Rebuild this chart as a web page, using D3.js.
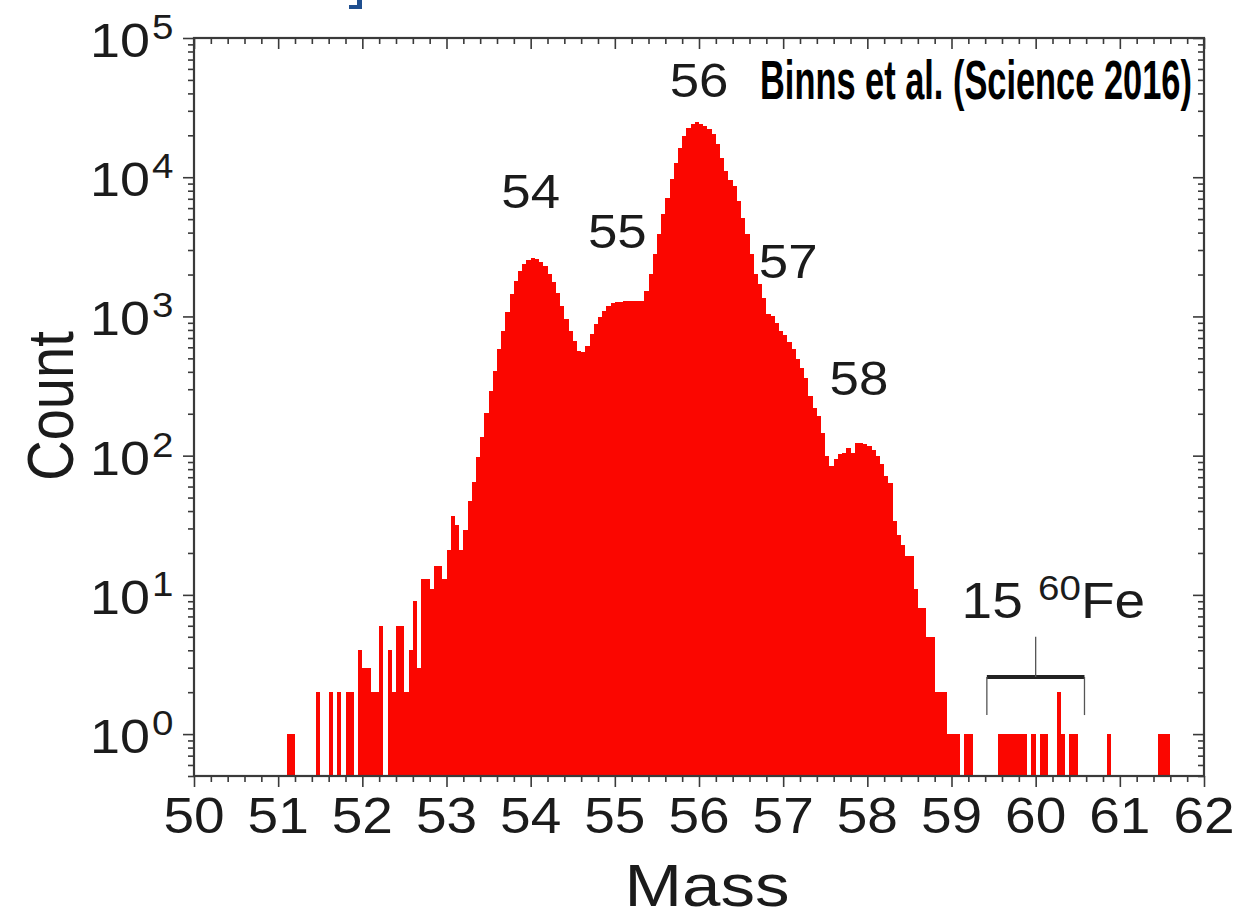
<!DOCTYPE html>
<html>
<head>
<meta charset="utf-8">
<script src="https://cdn.jsdelivr.net/npm/d3@7"></script>
<style>
  html, body { margin: 0; padding: 0; background: #ffffff; }
  svg { display: block; }
  text { font-family: "Liberation Sans", Arial, Helvetica, sans-serif; fill: #1b1b1b; }
</style>
</head>
<body>
<svg id="chart" width="1258" height="921"></svg>
<script>
// Mass histogram of iron isotopes in cosmic rays (counts per 0.05 mass-unit bin)
const binStart = 51.0;
const binWidth = 0.05;
const counts = [
  // 51.00 - 51.95
  0, 0, 1, 1, 0, 0, 0, 0, 0, 2,
  0, 0, 2, 0, 2, 0, 2, 2, 0, 4,
  // 52.00 - 52.95
  3, 3, 2, 2, 6, 0, 4, 2, 6, 6,
  2, 4, 9, 3, 13, 13, 11, 16, 16, 13,
  // 53.00 - 53.95
  21, 37, 32, 21, 29, 47, 65, 98, 137, 203,
  291, 405, 580, 785, 1081, 1442, 1796, 2120, 2366, 2530,
  // 54.00 - 54.95
  2641, 2585, 2472, 2302, 2027, 1777, 1481, 1188, 953, 785,
  665, 564, 558, 613, 743, 877, 990, 1094, 1188, 1255,
  // 55.00 - 55.95
  1276, 1280, 1285, 1290, 1290, 1290, 1300, 1524, 2006, 2793,
  3890, 5413, 7127, 9654, 12710, 16290, 19770, 22690, 24250, 24800,
  // 56.00 - 56.95
  24000, 23500, 22090, 20330, 17230, 13800, 11080, 9500, 8640, 6746,
  5119, 3890, 2793, 2006, 1700, 1363, 1035, 1000, 901, 790,
  // 57.00 - 57.95
  740, 660, 580, 492, 428, 360, 268, 221, 192, 145,
  99, 84, 95, 102, 105, 114, 105, 124, 124, 121,
  // 58.00 - 58.95
  118, 110, 99, 87, 71, 64, 34, 27, 23, 19,
  19, 11, 8, 8, 5, 5, 2, 2, 2, 1,
  // 59.00 - 59.95
  1, 1, 0, 1, 1, 0, 0, 0, 0, 0,
  0, 1, 1, 1, 1, 1, 1, 1, 0, 1,
  // 60.00 - 60.95
  0, 1, 1, 0, 0, 2, 1, 0, 1, 1,
  0, 0, 0, 0, 0, 0, 0, 1, 0, 0,
  // 61.00 - 61.95
  0, 0, 0, 0, 0, 0, 0, 0, 0, 1,
  1, 1, 0, 0, 0, 0, 0, 0, 0, 0
];

const xTickValues = [50, 51, 52, 53, 54, 55, 56, 57, 58, 59, 60, 61, 62];
const yTickValues = [1, 10, 100, 1000, 10000, 100000];
const yTickExponents = ["0", "1", "2", "3", "4", "5"];

// isotope peak annotations: text, mass, count level of the text baseline
const peakNames = ["54", "55", "56", "57", "58"];
const peakMasses = [54.0, 55.03, 56.0, 57.06, 57.9];
const peakLevels = [6000, 3100, 38000, 1900, 273];

// 60Fe bracket: mass span, centre, count levels
const bracketMasses = [59.42, 60.58];
const bracketCentre = 60.0;
const bracketLevels = { bar: 2.57, legs: 1.37, stem: 5.0 };
const fe60Count = "15";

const source = "Binns et al. (Science 2016)";

// ---------------------------------------------------------------------------
const plot = { left: 194, right: 1204, top: 38, bottom: 776 };
const x = d3.scaleLinear().domain([50, 62]).range([plot.left, plot.right]);
const y = d3.scaleLog().domain([0.5, 1e5]).range([plot.bottom, plot.top]);

const svg = d3.select("#chart");
const axisColor = "#3a3a3a";
const barColor = "#fb0600";

// histogram bars
const bins = counts.map((c, i) => ({
  m0: binStart + i * binWidth,
  m1: binStart + (i + 1) * binWidth,
  c: c
})).filter(d => d.c > 0);

svg.append("g")
  .attr("shape-rendering", "crispEdges")
  .selectAll("rect")
  .data(bins)
  .join("rect")
  .attr("x", d => x(d.m0))
  .attr("width", d => x(d.m1) - x(d.m0))
  .attr("y", d => y(d.c))
  .attr("height", d => y.range()[0] - y(d.c))
  .attr("fill", barColor);

// axes: ticks only, the frame is drawn separately
const xMinor = d3.range(50, 62.0001, 0.2).filter(v => Math.abs(v - Math.round(v)) > 1e-6);
const yMinor = y.ticks().filter(v => !yTickValues.some(t => Math.abs(t - v) / t < 1e-9));

function tickAxis(g, axis) {
  g.call(axis);
  g.select(".domain").remove();
  g.selectAll(".tick line").attr("stroke", axisColor).attr("stroke-width", 1.6);
  g.selectAll(".tick text").remove();
}

// bottom (outward) and top (inward) share the same downward ticks
[plot.bottom, plot.top].forEach(py => {
  svg.append("g").attr("transform", `translate(0,${py})`)
    .call(g => tickAxis(g, d3.axisBottom(x).tickValues(xTickValues).tickSize(11)));
  svg.append("g").attr("transform", `translate(0,${py})`)
    .call(g => tickAxis(g, d3.axisBottom(x).tickValues(xMinor).tickSize(6)));
});
// left (outward) and right (inward) share the same leftward ticks
[plot.left, plot.right].forEach(px => {
  svg.append("g").attr("transform", `translate(${px},0)`)
    .call(g => tickAxis(g, d3.axisLeft(y).tickValues(yTickValues).tickSize(11)));
  svg.append("g").attr("transform", `translate(${px},0)`)
    .call(g => tickAxis(g, d3.axisLeft(y).tickValues(yMinor).tickSize(6)));
});

svg.append("rect")
  .attr("x", plot.left).attr("y", plot.top)
  .attr("width", plot.right - plot.left).attr("height", plot.bottom - plot.top)
  .attr("fill", "none").attr("stroke", axisColor).attr("stroke-width", 2.2);

// text helper with slight horizontal stretch
const stretch = 1.1;
function label(px, py, str, size, anchor) {
  return svg.append("text")
    .attr("transform", `translate(${px},${py}) scale(${stretch},1)`)
    .attr("text-anchor", anchor || "middle")
    .attr("font-size", size)
    .text(str);
}

// x tick labels
xTickValues.forEach(v => label(x(v), plot.bottom + 57, String(v), 50, "middle"));

// y tick labels: 10 with superscript exponent
yTickValues.forEach((v, i) => {
  label(plot.left - 44, y(v) + 19, "10", 49, "end");
  label(plot.left - 42, y(v) + 1, yTickExponents[i], 35, "start");
});

// axis titles
svg.append("text")
  .attr("transform", `translate(${plot.left - 121},${(plot.top + plot.bottom) / 2 - 1}) scale(1.16,1) rotate(-90)`)
  .attr("text-anchor", "middle").attr("font-size", 56)
  .text("Count");
svg.append("text")
  .attr("transform", `translate(${(plot.left + plot.right) / 2 + 8},906) scale(1.17,1)`)
  .attr("text-anchor", "middle").attr("font-size", 59)
  .text("Mass");

// peak labels
peakNames.forEach((t, i) => label(x(peakMasses[i]), y(peakLevels[i]), t, 48, "middle"));

// 60Fe annotation
const fe = svg.append("text")
  .attr("transform", `translate(${x(59.12)},${y(6.8)}) scale(${stretch},1)`)
  .attr("font-size", 50);
fe.append("tspan").text(fe60Count + " ");
fe.append("tspan").attr("font-size", 35).attr("dy", -18).text("60");
fe.append("tspan").attr("dy", 18).text("Fe");

const br = svg.append("g").attr("stroke", "#222");
br.append("line")
  .attr("x1", x(bracketMasses[0])).attr("x2", x(bracketMasses[1]))
  .attr("y1", y(bracketLevels.bar)).attr("y2", y(bracketLevels.bar))
  .attr("stroke-width", 4);
bracketMasses.forEach(m => br.append("line")
  .attr("x1", x(m)).attr("x2", x(m))
  .attr("y1", y(bracketLevels.bar)).attr("y2", y(bracketLevels.legs))
  .attr("stroke-width", 1.3).attr("stroke", "#555"));
br.append("line")
  .attr("x1", x(bracketCentre)).attr("x2", x(bracketCentre))
  .attr("y1", y(bracketLevels.bar)).attr("y2", y(bracketLevels.stem))
  .attr("stroke-width", 1.3).attr("stroke", "#555");

// source credit, narrowed to fit between the 56 label and the right frame
const credit = svg.append("text")
  .attr("font-family", "'Liberation Sans Narrow', 'DejaVu Sans Condensed', 'Liberation Sans', sans-serif")
  .attr("font-weight", "bold")
  .attr("font-size", 56)
  .style("fill", "#000")
  .text(source);
const creditWidth = 432;
const natural = credit.node().getComputedTextLength();
credit.attr("transform", `translate(760,99) scale(${creditWidth / natural},1)`);

// cropped dark-blue mark at the top edge
svg.append("path")
  .attr("d", "M349,5 L357,5 L357,0 L362,0 L362,9 L349,9 Z")
  .attr("fill", "#1f4f8f");
</script>
</body>
</html>
